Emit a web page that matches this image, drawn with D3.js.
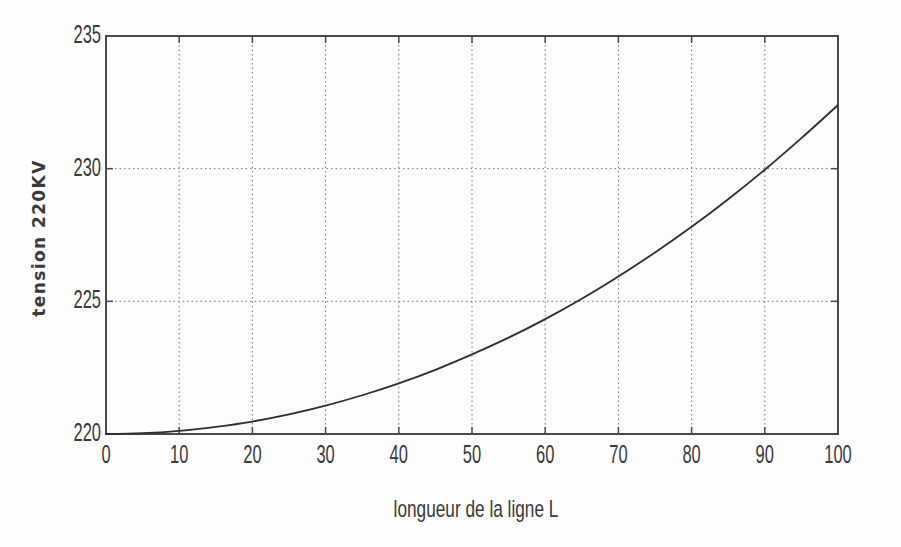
<!DOCTYPE html>
<html>
<head>
<meta charset="utf-8">
<script src="https://cdn.jsdelivr.net/npm/d3@7"></script>
<style>
  html, body { margin: 0; padding: 0; background: #fdfdfd; }
  svg { display: block; }
  .tick-label { font-family: "Liberation Sans", Arial, sans-serif; font-size: 25px; fill: #3a3a3a; }
  .axis-title { font-family: "Liberation Sans", Arial, sans-serif; font-size: 23px; fill: #3a3a3a; }
</style>
</head>
<body>
<svg id="chart" width="901" height="547"></svg>
<script>
// Line length L (km) and receiving-end voltage (kV)
const lengths = [0, 5, 10, 15, 20, 25, 30, 35, 40, 45, 50, 55, 60, 65, 70, 75, 80, 85, 90, 95, 100];
const voltages = [220.00, 220.03, 220.12, 220.27, 220.47, 220.74, 221.07, 221.46, 221.91, 222.42, 223.00,
                  223.63, 224.33, 225.10, 225.94, 226.84, 227.81, 228.85, 229.96, 231.15, 232.40];
const xTicks = [0, 10, 20, 30, 40, 50, 60, 70, 80, 90, 100];
const yTicks = [220, 225, 230, 235];
const xTitle = "longueur de la ligne L";
const yTitle = "tension 220KV";

const svg = d3.select("#chart");
const margin = { left: 106, right: 63, top: 36, bottom: 113 };
const W = 901, H = 547;
const x = d3.scaleLinear().domain([0, 100]).range([margin.left, W - margin.right]);
const y = d3.scaleLinear().domain([220, 235]).range([H - margin.bottom, margin.top]);

const frameColor = "#4a4a4a";
const g = svg.append("g");

// dotted grid
g.selectAll(".vgrid").data(xTicks.slice(1, -1)).join("line")
  .attr("x1", d => x(d)).attr("x2", d => x(d))
  .attr("y1", y(235)).attr("y2", y(220))
  .attr("stroke", "#777").attr("stroke-width", 1).attr("stroke-dasharray", "1.5,3");
g.selectAll(".hgrid").data(yTicks.slice(1, -1)).join("line")
  .attr("x1", x(0)).attr("x2", x(100))
  .attr("y1", d => y(d)).attr("y2", d => y(d))
  .attr("stroke", "#777").attr("stroke-width", 1).attr("stroke-dasharray", "1.5,3");

// inward tick marks on all four sides
const tl = 7;
xTicks.forEach(d => {
  g.append("line").attr("x1", x(d)).attr("x2", x(d)).attr("y1", y(220)).attr("y2", y(220) - tl)
    .attr("stroke", frameColor).attr("stroke-width", 1.5);
  g.append("line").attr("x1", x(d)).attr("x2", x(d)).attr("y1", y(235)).attr("y2", y(235) + tl)
    .attr("stroke", frameColor).attr("stroke-width", 1.5);
});
yTicks.forEach(d => {
  g.append("line").attr("x1", x(0)).attr("x2", x(0) + tl).attr("y1", y(d)).attr("y2", y(d))
    .attr("stroke", frameColor).attr("stroke-width", 1.5);
  g.append("line").attr("x1", x(100)).attr("x2", x(100) - tl).attr("y1", y(d)).attr("y2", y(d))
    .attr("stroke", frameColor).attr("stroke-width", 1.5);
});

// frame
g.append("rect")
  .attr("x", x(0)).attr("y", y(235))
  .attr("width", x(100) - x(0)).attr("height", y(220) - y(235))
  .attr("fill", "none").attr("stroke", frameColor).attr("stroke-width", 2);

// voltage curve
const line = d3.line().x((d, i) => x(lengths[i])).y(d => y(d)).curve(d3.curveMonotoneX);
g.append("path").datum(voltages)
  .attr("d", line)
  .attr("fill", "none").attr("stroke", "#2e2e2e").attr("stroke-width", 1.8);

// condensed tick labels
const squeeze = 0.66;
g.selectAll(".xl").data(xTicks).join("text")
  .attr("class", "tick-label")
  .attr("transform", d => `translate(${x(d)}, ${y(220) + 29}) scale(${squeeze}, 1)`)
  .attr("text-anchor", "middle")
  .text(d => d);
g.selectAll(".yl").data(yTicks).join("text")
  .attr("class", "tick-label")
  .attr("transform", d => `translate(${x(0) - 5}, ${y(d) + 7}) scale(${squeeze}, 1)`)
  .attr("text-anchor", "end")
  .text(d => d);

// axis titles
g.append("text").attr("class", "axis-title")
  .attr("transform", "translate(476, 517) scale(0.75, 1)")
  .attr("text-anchor", "middle")
  .text(xTitle);
g.append("text")
  .attr("transform", `translate(45, 238) rotate(-90)`)
  .attr("text-anchor", "middle")
  .style("font-family", "'DejaVu Sans', Verdana, sans-serif")
  .style("font-weight", "bold")
  .style("font-size", "17px")
  .style("letter-spacing", "1.4px")
  .style("fill", "#3a3a3a")
  .text(yTitle);
</script>
</body>
</html>
